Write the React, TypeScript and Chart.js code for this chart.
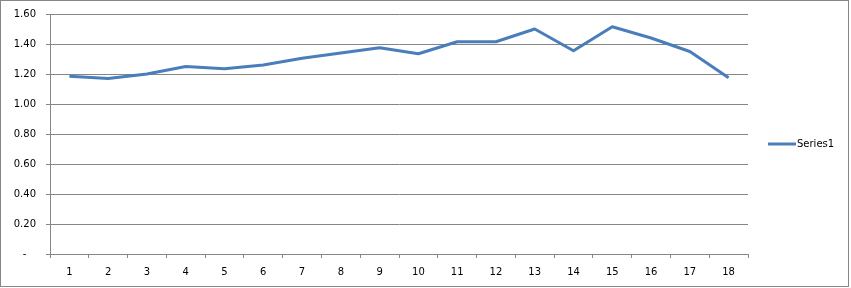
import React, { useEffect, useRef } from "react";
import { Chart, registerables } from "chart.js";

Chart.register(...registerables);

const categories = ["1","2","3","4","5","6","7","8","9","10","11","12","13","14","15","16","17","18"];
const series1 = [1.185, 1.17, 1.2, 1.25, 1.235, 1.26, 1.305, 1.34, 1.375, 1.335, 1.415, 1.415, 1.5, 1.355, 1.515, 1.44, 1.35, 1.175];
const seriesName = "Series1";
const yTicks = [0, 0.2, 0.4, 0.6, 0.8, 1.0, 1.2, 1.4, 1.6];

const FONT = "'DejaVu Sans', sans-serif";
const LINE_COLOR = "#4A7EBB";
const GRID_COLOR = "#868686";

const framePlugin = {
  id: "framePlugin",
  afterDraw(chart: any) {
    const ctx = chart.ctx;
    ctx.save();
    ctx.strokeStyle = GRID_COLOR;
    ctx.lineWidth = 1;
    ctx.strokeRect(0.5, 0.5, 848, 286);
    // legend
    const ds = chart.data.datasets[0];
    ctx.strokeStyle = ds.borderColor;
    ctx.lineWidth = 3;
    ctx.beginPath();
    ctx.moveTo(768, 144);
    ctx.lineTo(796, 144);
    ctx.stroke();
    ctx.fillStyle = "#000";
    ctx.font = "10px " + FONT;
    ctx.textBaseline = "middle";
    ctx.textAlign = "left";
    ctx.fillText(ds.label, 797, 144);
    ctx.restore();
  },
};

export default function App() {
  const ref = useRef<HTMLCanvasElement | null>(null);
  useEffect(() => {
    document.body.style.margin = "0";
    const canvas = ref.current!;
    const chart = new Chart(canvas, {
      type: "line",
      data: {
        labels: categories,
        datasets: [
          {
            label: seriesName,
            data: series1,
            borderColor: LINE_COLOR,
            backgroundColor: LINE_COLOR,
            borderWidth: 3,
            pointRadius: 0,
            tension: 0,
            borderJoinStyle: "round",
          },
        ],
      },
      options: {
        animation: false,
        responsive: false,
        maintainAspectRatio: false,
        layout: { padding: { left: 0, right: 103, top: 14, bottom: 0 } },
        plugins: { legend: { display: false }, tooltip: { enabled: false } },
        scales: {
          x: {
            type: "category",
            offset: true,
            grid: { display: true, drawOnChartArea: false, drawTicks: true, tickLength: 4, offset: true, color: GRID_COLOR },
            border: { display: true, color: GRID_COLOR },
            ticks: { color: "#000", font: { family: FONT, size: 10 }, padding: 8, maxRotation: 0, autoSkip: false },
            afterFit(scale: any) {
              scale.height = 34;
              scale.paddingLeft = 0;
              scale.paddingRight = 0;
            },
          },
          y: {
            min: 0,
            max: 1.6,
            afterBuildTicks(scale: any) {
              scale.ticks = yTicks.map((v) => ({ value: v }));
            },
            grid: { color: GRID_COLOR, tickLength: 4, drawTicks: true },
            border: { display: true, color: GRID_COLOR },
            ticks: {
              color: "#000",
              font: { family: FONT, size: 10 },
              padding: 10,
              callback: (v: any) => (Number(v) === 0 ? "-   " : Number(v).toFixed(2)),
            },
            afterFit(scale: any) {
              scale.width = 50;
              scale.paddingTop = 0;
              scale.paddingBottom = 0;
            },
          },
        },
      },
      plugins: [framePlugin],
    } as any);
    return () => chart.destroy();
  }, []);
  return (
    <div style={{ width: 851, height: 288, background: "#fff" }}>
      <canvas ref={ref} width={851} height={288} style={{ display: "block" }} />
    </div>
  );
}
